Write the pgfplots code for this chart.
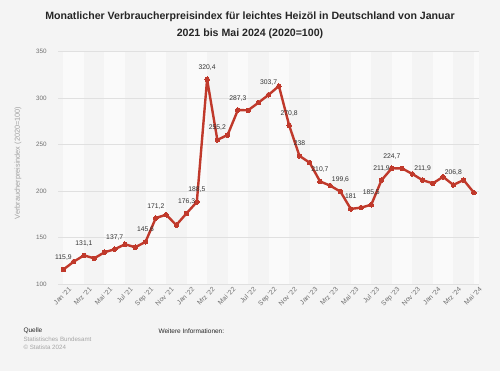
\documentclass[border=0pt]{standalone}
\usepackage{fontspec}
\setmainfont{Liberation Sans}
\usepackage{pgfplots}
\pgfplotsset{compat=1.18}
\usepackage{pgfplotstable}
\definecolor{bg}{HTML}{F4F4F4}
\definecolor{band}{HTML}{FAFAFA}
\definecolor{linered}{RGB}{192,57,43}
\definecolor{gridc}{HTML}{E0E0E0}
\definecolor{tickc}{HTML}{6E6E6E}
\definecolor{labc}{HTML}{333333}

\pgfplotstableread{
idx val
0 115.9
1 124.3
2 131.1
3 127.9
4 134.4
5 137.7
6 143.0
7 139.8
8 145.6
9 171.2
10 174.8
11 163.7
12 176.3
13 188.5
14 320.4
15 255.2
16 260.5
17 287.3
18 287.0
19 295.2
20 303.7
21 313.1
22 270.8
23 238
24 230.7
25 210.7
26 206.0
27 199.6
28 181
29 182.4
30 185.5
31 211.9
32 224.7
33 224.6
34 218.6
35 211.9
36 208.5
37 215.5
38 206.8
39 212.1
40 198.5
}\datatable

\pgfplotstableread{
idx val
0 115.9
2 131.1
5 137.7
8 145.6
9 171.2
12 176.3
13 188.5
14 320.4
15 255.2
17 287.3
20 303.7
22 270.8
23 238
25 210.7
27 199.6
28 181
30 185.5
31 211.9
32 224.7
35 211.9
38 206.8
}\labeltable

\begin{document}
\begin{tikzpicture}[x=1pt,y=1pt]
\fill[bg] (0,0) rectangle (500,371);
% alternating background bands of the plot area (decoration)
\foreach \k in {0,4,...,36}{
  \fill[band] ({58.3+(\k+0.5)*10.261},86.7) rectangle ({58.3+(\k+2.5)*10.261},319.3);
}
\fill[band] ({58.3+40.5*10.261},86.7) rectangle (479.0,319.3);
\node[font=\bfseries\fontsize{10.6}{17}\selectfont, text=black!85, align=center] at (250,345.5)
  {Monatlicher Verbraucherpreisindex für leichtes Heizöl in Deutschland von Januar\\2021 bis Mai 2024 (2020=100)};
\begin{axis}[
  at={(58.3pt,86.7pt)}, anchor=south west,
  scale only axis, width=420.7pt, height=232.6pt,
  xmin=-0.5, xmax=40.5, ymin=100, ymax=350,
  clip=false,
  /pgf/number format/assume math mode=true,
  axis line style={draw=none},
  major tick style={draw=none},
  ytick={100,150,...,350},
  ymajorgrids, grid style={gridc, line width=0.6pt},
  yticklabel style={font=\fontsize{6.3}{7}\selectfont, text=tickc, inner sep=0pt, xshift=-11.5pt},
  xtick={0,2,...,40},
  xticklabels={Jan '21,Mrz '21,Mai '21,Jul '21,Sep '21,Nov '21,Jan '22,Mrz '22,Mai '22,Jul '22,Sep '22,Nov '22,Jan '23,Mrz '23,Mai '23,Jul '23,Sep '23,Nov '23,Jan '24,Mrz '24,Mai '24},
  xticklabel style={font=\fontsize{6.7}{7}\selectfont, text=tickc, rotate=45, anchor=north east, inner sep=0pt, xshift=2pt, yshift=-5pt},
  ylabel={Verbraucherpreisindex (2020=100)},
  ylabel style={font=\fontsize{7.3}{8}\selectfont, text=gray!75, at={(axis description cs:-0.0958,0.521)}, anchor=center},
]
\addplot[linered, line width=2.4pt, line join=round, mark=*, mark size=2.3pt, mark options={solid, fill=linered, draw=linered, line width=0pt}] table[x=idx,y=val]{\datatable};
\addplot[draw=none, mark=none, point meta=explicit,
  nodes near coords={\pgfmathprintnumber[use comma,fixed,precision=1,assume math mode=true]{\pgfplotspointmeta}},
  nodes near coords style={font=\fontsize{6.8}{8}\selectfont, text=labc, anchor=base, inner sep=0pt, yshift=10pt}]
  table[x=idx,y=val,meta=val]{\labeltable};
\end{axis}
\node[anchor=west, font=\fontsize{6.5}{8}\selectfont, text=black!85] at (20,40) {Quelle};
\node[anchor=west, font=\fontsize{6.2}{8}\selectfont, text=gray!70] at (20,31.5) {Statistisches Bundesamt};
\node[anchor=west, font=\fontsize{6.2}{8}\selectfont, text=gray!70] at (20,23.5) {© Statista 2024};
\node[anchor=west, font=\fontsize{6.5}{8}\selectfont, text=black!85] at (155,40) {Weitere Informationen:};
\pgfresetboundingbox
\useasboundingbox (0,0) rectangle (500,371);
\end{tikzpicture}
\end{document}
